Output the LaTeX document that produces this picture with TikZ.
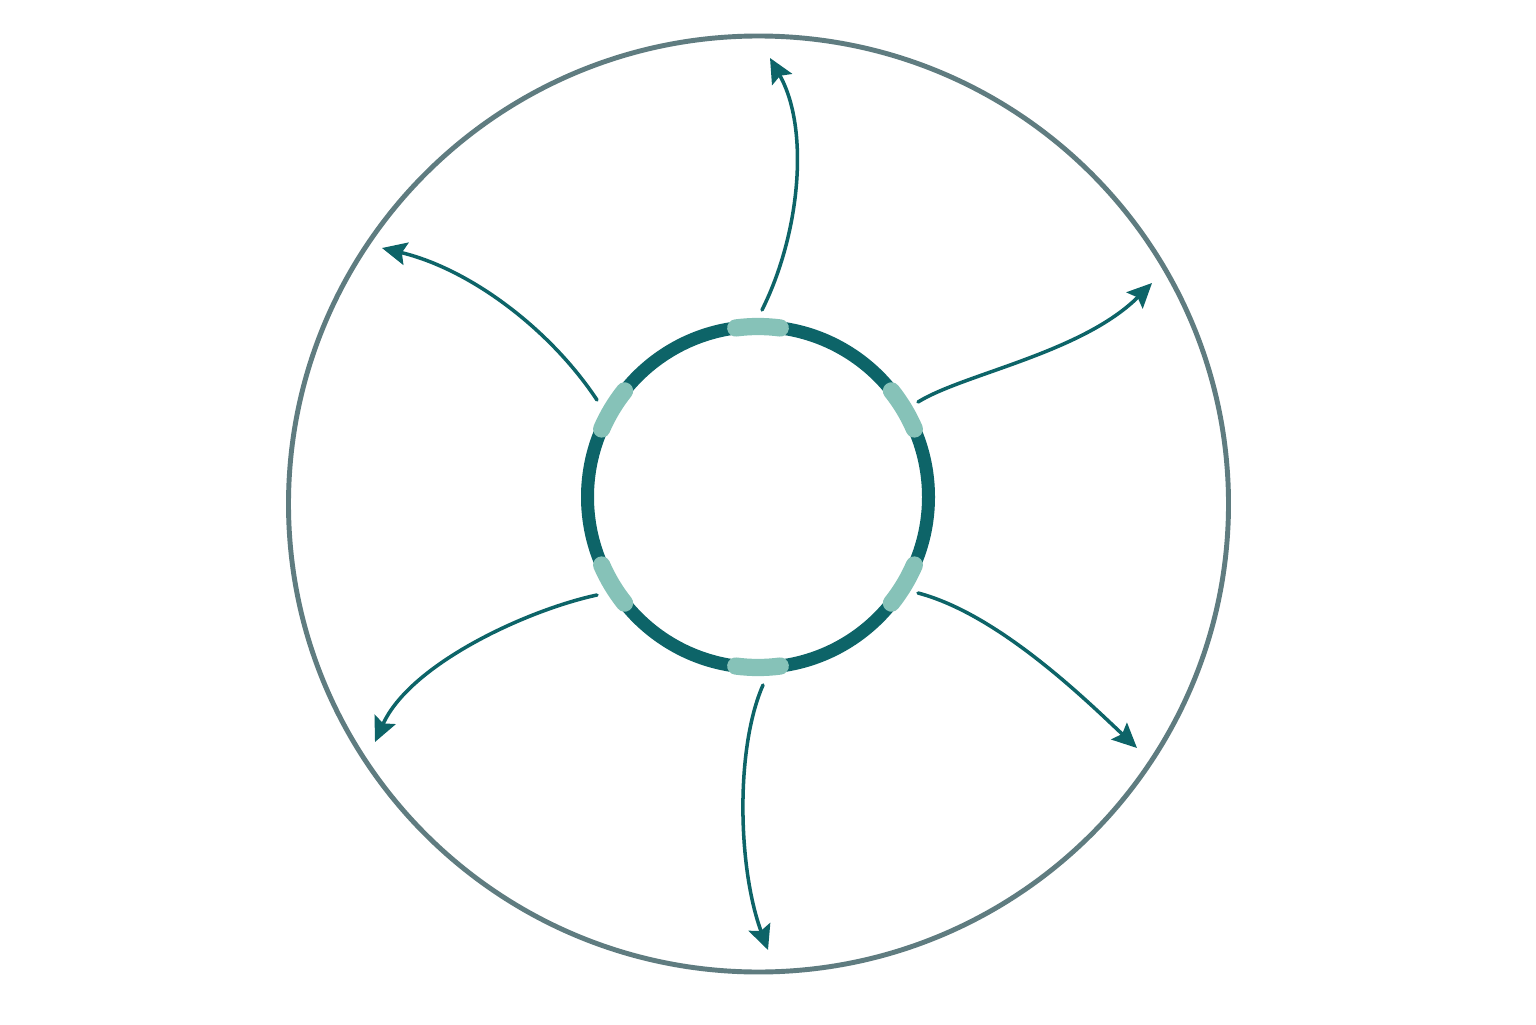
\documentclass[tikz,border=0pt]{standalone}
\usetikzlibrary{arrows.meta}
\definecolor{rimgrey}{HTML}{5F7C80}
\definecolor{hubteal}{HTML}{0D6468}
\definecolor{portteal}{HTML}{86C2B8}
\begin{document}
\begin{tikzpicture}[
	rim/.style={draw=rimgrey, line width=1.4pt},
	hub/.style={draw=hubteal, line width=3.7pt},
	port/.style={draw=portteal, line width=4.9pt, line cap=round},
	spoke/.style={draw=hubteal, line width=1pt, line cap=round, -{Stealth[length=7pt, width=6.5pt, inset=1.2pt]}}
	]
	
	% canvas
	\useasboundingbox (0,0) rectangle (15.36,10.24);
	\fill [white] (0,0) rectangle (15.36,10.24);
	
	% outer ring
	\coordinate (centre) at (7.585,5.20);
	\draw [rim] (centre) ellipse [x radius=4.70, y radius=4.68];
	
	% inner ring
	\coordinate (hub) at (7.58,5.27);
	\draw [hub] (hub) circle [radius=1.705];
	
	% light ports on the inner ring
	\foreach \a in {90,31,-31,-90,-149,149}
		\draw [port] ([shift={(\a-7.5:1.705)}]hub) arc [start angle=\a-7.5, end angle=\a+7.5, radius=1.705];
	
	% start and end points of the arrows
	\coordinate (top start) at (7.62,7.14);
	\coordinate (top end) at (7.70,9.66);
	\coordinate (upper right start) at (9.18,6.22);
	\coordinate (upper right end) at (11.52,7.41);
	\coordinate (lower right start) at (9.18,4.31);
	\coordinate (lower right end) at (11.37,2.76);
	\coordinate (bottom start) at (7.63,3.39);
	\coordinate (bottom end) at (7.68,0.74);
	\coordinate (lower left start) at (5.97,4.29);
	\coordinate (lower left end) at (3.75,2.82);
	\coordinate (upper left start) at (5.97,6.24);
	\coordinate (upper left end) at (3.82,7.76);
	
	% arrows
	\draw [spoke] (top start) .. controls (8.0,7.9) and (8.1,8.95) .. (top end);
	\draw [spoke] (upper right start) .. controls (9.63,6.50) and (10.82,6.71) .. (upper right end);
	\draw [spoke] (lower right start) .. controls (9.98,4.10) and (10.85,3.25) .. (lower right end);
	\draw [spoke] (bottom start) .. controls (7.35,2.75) and (7.38,1.55) .. (bottom end);
	\draw [spoke] (lower left start) .. controls (5.27,4.14) and (4.1,3.6) .. (lower left end);
	\draw [spoke] (upper left start) .. controls (5.5,6.95) and (4.7,7.55) .. (upper left end);
	
\end{tikzpicture}
\end{document}
